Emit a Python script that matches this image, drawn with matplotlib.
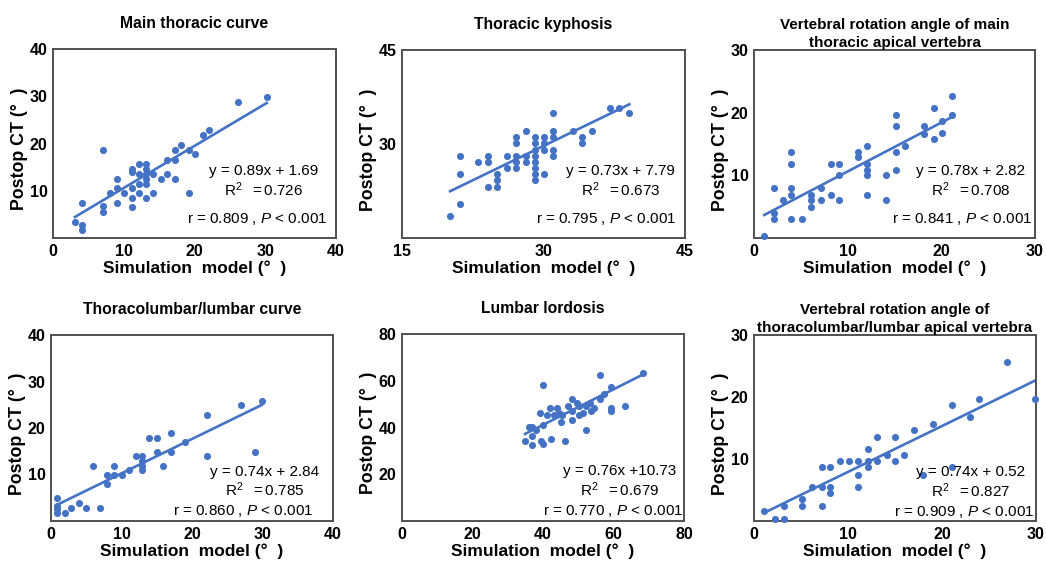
import matplotlib
matplotlib.use("Agg")
import matplotlib.pyplot as plt
import numpy as np

plt.rcParams['font.family'] = ['Liberation Sans', 'DejaVu Sans']
plt.rcParams['mathtext.fontset'] = 'custom'
plt.rcParams['mathtext.rm'] = 'Liberation Sans'
plt.rcParams['mathtext.it'] = 'Liberation Sans:italic'

# ---- data ----
titles = [
    "Main thoracic curve",
    "Thoracic kyphosis",
    "Vertebral rotation angle of main\nthoracic apical vertebra",
    "Thoracolumbar/lumbar curve",
    "Lumbar lordosis",
    "Vertebral rotation angle of\nthoracolumbar/lumbar apical vertebra",
]

mtc_x = [3.1, 4.1, 4.1, 4.1, 7.1, 7.1, 7.1, 8.1, 9.1, 9.1, 9.1, 10.1, 11.1, 11.1, 11.1, 11.1, 11.1,
         12.1, 12.1, 12.1, 12.1, 13.2, 13.2, 13.2, 13.2, 13.2, 13.2, 14.1, 14.1, 15.2, 16.1, 16.1,
         17.2, 17.2, 17.2, 18.1, 19.2, 19.2, 20.1, 21.2, 22.1, 26.2, 30.2]
mtc_y = [3.4, 2.7, 1.6, 7.5, 6.8, 5.6, 18.7, 9.6, 10.6, 12.5, 7.5, 9.6, 14.7, 13.9, 10.6, 8.5, 6.6,
         15.6, 13.6, 11.5, 9.6, 15.6, 14.7, 13.6, 12.5, 11.5, 8.5, 13.6, 9.6, 12.5, 16.6, 13.6,
         18.7, 16.6, 12.5, 19.6, 18.7, 9.6, 17.7, 21.7, 22.8, 28.7, 29.8]

tk_x = [20.1, 21.2, 21.2, 21.2, 23.1, 24.1, 24.1, 24.1, 25.1, 25.1, 25.1, 26.1, 26.1, 27.1, 27.1,
        27.1, 27.1, 27.1, 28.1, 28.1, 28.1, 29.1, 29.1, 29.1, 29.1, 29.1, 29.1, 29.1, 29.1, 30.1,
        30.1, 30.1, 30.1, 31.0, 31.0, 31.0, 31.0, 31.0, 33.1, 34.1, 34.1, 35.1, 37.1, 38.0, 39.1]
tk_y = [18.5, 20.4, 25.2, 28.1, 27.2, 28.1, 27.2, 23.2, 25.2, 24.3, 23.2, 28.1, 26.2, 31.1, 30.2,
        28.1, 27.2, 26.2, 32.0, 28.1, 27.2, 31.1, 30.2, 29.0, 28.1, 27.2, 26.2, 25.2, 24.3, 31.1,
        30.2, 29.0, 25.2, 34.9, 32.0, 31.1, 29.0, 28.1, 32.0, 31.1, 30.2, 32.0, 35.8, 35.8, 34.9]

vmt_x = [1.1, 2.1, 2.1, 2.1, 3.1, 4.0, 4.0, 4.0, 4.0, 4.0, 5.1, 6.1, 6.1, 6.1, 7.1, 7.1, 8.2, 8.2,
         9.1, 9.1, 9.1, 11.1, 11.1, 12.1, 12.1, 12.1, 12.1, 12.1, 14.1, 14.1, 15.2, 15.2, 15.2, 15.2,
         16.1, 18.1, 18.1, 19.2, 19.2, 20.1, 20.1, 21.1, 21.1]
vmt_y = [0.3, 3.1, 4.0, 8.0, 6.1, 3.1, 6.9, 8.0, 11.8, 13.8, 3.1, 6.9, 6.0, 5.0, 6.0, 8.0, 6.9, 11.8,
         11.8, 10.1, 6.0, 13.8, 12.9, 14.7, 11.8, 10.9, 10.0, 6.9, 10.0, 6.0, 19.6, 17.8, 13.8, 10.9,
         14.7, 17.8, 16.6, 20.7, 15.8, 18.7, 16.7, 22.7, 19.6]

tl_x = [0.9, 0.9, 0.9, 0.9, 2.0, 2.9, 4.0, 5.0, 6.0, 6.9, 8.0, 8.0, 9.0, 9.0, 10.0, 11.0, 12.0,
        12.9, 12.9, 12.9, 12.9, 13.9, 15.0, 15.0, 15.9, 17.0, 17.0, 19.0, 22.1, 22.1, 27.0, 28.9, 29.9]
tl_y = [4.9, 3.2, 2.5, 1.8, 1.8, 2.9, 3.9, 2.9, 11.8, 2.9, 7.9, 9.9, 9.9, 11.8, 9.9, 10.9, 13.9,
        13.9, 12.9, 11.8, 10.9, 17.9, 17.9, 14.9, 11.8, 18.9, 14.9, 17.0, 22.9, 13.9, 25.0, 14.9, 25.9]

ll_x = [34.9, 37.0, 37.0, 37.0, 35.9, 38.1, 39.2, 39.4, 40.1, 40.1, 40.1, 41.1, 42.0, 42.2, 43.2,
        44.1, 44.4, 45.0, 45.3, 46.3, 47.2, 48.2, 48.2, 48.2, 49.6, 50.3, 50.3, 51.3, 52.2, 52.2,
        53.4, 53.5, 54.5, 56.2, 56.2, 57.3, 59.2, 59.2, 59.2, 63.3, 68.5]
ll_y = [34.1, 40.1, 36.2, 32.4, 40.1, 39.1, 46.2, 34.1, 33.1, 41.2, 58.2, 45.2, 48.3, 35.2, 45.2,
        48.3, 46.2, 42.2, 45.2, 34.1, 49.3, 52.1, 47.2, 43.3, 50.4, 49.3, 45.2, 46.2, 39.1, 49.3,
        50.4, 47.2, 48.3, 62.5, 52.1, 54.3, 57.4, 48.3, 47.2, 49.3, 63.5]

vtl_x = [1.1, 2.2, 3.2, 3.2, 5.1, 5.1, 6.2, 7.2, 7.2, 7.2, 8.1, 8.1, 8.1, 9.1, 10.1, 11.1, 11.1,
         11.1, 12.1, 12.1, 12.1, 13.1, 13.1, 14.1, 15.0, 15.0, 16.0, 17.0, 18.0, 19.0, 21.1, 21.1,
         23.0, 23.9, 26.9, 29.9]
vtl_y = [1.6, 0.4, 0.4, 2.5, 3.6, 2.5, 5.5, 8.7, 5.5, 2.5, 8.7, 5.5, 4.5, 9.6, 9.6, 9.6, 7.5, 5.5,
         11.6, 9.6, 8.7, 13.6, 9.6, 10.7, 13.6, 9.6, 10.7, 14.7, 7.5, 15.6, 8.7, 18.7, 16.7, 19.6,
         25.7, 19.6]

xs = [mtc_x, tk_x, vmt_x, tl_x, ll_x, vtl_x]
ys = [mtc_y, tk_y, vmt_y, tl_y, ll_y, vtl_y]

slopes = [0.89, 0.73, 0.78, 0.74, 0.76, 0.74]
intercepts = [1.69, 7.79, 2.82, 2.84, 10.73, 0.52]
eq_texts = ["y = 0.89x + 1.69", "y = 0.73x + 7.79", "y = 0.78x + 2.82",
            "y = 0.74x + 2.84", "y = 0.76x +10.73", "y = 0.74x + 0.52"]
r2_texts = ["0.726", "0.673", "0.708", "0.785", "0.679", "0.827"]
r_texts = ["0.809", "0.795", "0.841", "0.860", "0.770", "0.909"]

limits = [(0, 40), (15, 45), (0, 30), (0, 40), (0, 80), (0, 30)]
yticks = [[10, 20, 30, 40], [30, 45], [10, 20, 30], [10, 20, 30, 40], [20, 40, 60, 80], [10, 20, 30]]
xticks = [[0, 10, 20, 30, 40], [15, 30, 45], [0, 10, 20, 30], [0, 10, 20, 30, 40],
          [0, 20, 40, 60, 80], [0, 10, 20, 30]]

# ---- layout (pixels) ----
W, H = 1046, 561
boxes = [(53, 336, 49, 238), (402, 685, 50, 238), (754, 1035, 50, 238),
         (51, 333, 335, 521), (402, 684, 334, 521), (754, 1036, 335, 521)]
eq_pos = [(0.745, 0.354, 0.254, 0.968, 0.10), (0.773, 0.355, 0.258, 0.969, 0.10),
          (0.77, 0.355, 0.258, 0.99, 0.10), (0.758, 0.264, 0.17, 0.929, 0.054),
          (0.773, 0.267, 0.168, 0.997, 0.053), (0.769, 0.262, 0.163, 0.994, 0.05)]

blue = "#4472C4"
fig = plt.figure(figsize=(W / 100, H / 100), dpi=100)

for i in range(6):
    l, r, t, b = boxes[i]
    ax = fig.add_axes([l / W, 1 - b / H, (r - l) / W, (b - t) / H])
    x = np.array(xs[i]); y = np.array(ys[i])
    ax.scatter(x, y, s=26, color=blue, linewidths=0, zorder=3, clip_on=False)
    xl = np.array([x.min(), x.max()])
    ax.plot(xl, slopes[i] * xl + intercepts[i], color=blue, lw=1.9, zorder=2)
    lo, hi = limits[i]
    ax.set_xlim(lo, hi); ax.set_ylim(lo, hi)
    ax.set_xticks(xticks[i]); ax.set_yticks(yticks[i])
    ax.tick_params(length=0, labelsize=11.5, pad=4)
    for lab in ax.get_xticklabels() + ax.get_yticklabels():
        lab.set_fontweight('bold')
    for sp in ax.spines.values():
        sp.set_color('#505050'); sp.set_linewidth(1.4)
    ax.set_xlabel("Simulation  model (°  )", fontsize=12.5, fontweight='bold', labelpad=1)
    ax.set_ylabel("Postop CT (°  )", fontsize=12.8, fontweight='bold')
    ax.yaxis.set_label_coords(-25 / (r - l), 0.47)
    if '\n' in titles[i]:
        ax.set_title(titles[i], fontsize=11, fontweight='bold', pad=0, linespacing=1.4)
    else:
        ax.set_title(titles[i], fontsize=11.3, fontweight='bold', pad=15)
    ex, ey, ry, rx, rpy = eq_pos[i]
    ax.text(ex, ey, eq_texts[i], transform=ax.transAxes, ha='center', va='center', fontsize=11)
    ax.text(ex, ry, "R$^{2}$  $=$0." + r2_texts[i][2:], transform=ax.transAxes, ha='center',
            va='center', fontsize=11)
    ax.text(rx, rpy, "r = " + r_texts[i] + " , $P$ < 0.001", transform=ax.transAxes,
            ha='right', va='center', fontsize=11)

fig.savefig("out.png", dpi=100)
